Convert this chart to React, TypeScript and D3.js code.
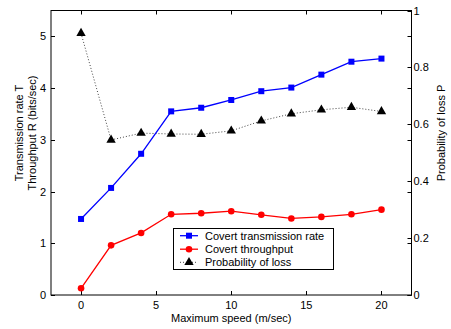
import { useEffect, useRef } from 'react'
import * as d3 from 'd3'

const speeds = [0, 2, 4, 6, 8, 10, 12, 14, 16, 18, 20]
const transmissionRate = [1.47, 2.07, 2.73, 3.55, 3.62, 3.77, 3.94, 4.01, 4.26, 4.51, 4.57]
const throughput = [0.13, 0.96, 1.2, 1.56, 1.58, 1.62, 1.55, 1.48, 1.51, 1.56, 1.65]
const lossProb = [0.92, 0.545, 0.569, 0.566, 0.565, 0.577, 0.612, 0.637, 0.651, 0.66, 0.645]

const xTicks = [0, 5, 10, 15, 20]
const leftTicks = [0, 1, 2, 3, 4, 5]
const rightTicks = [0, 0.2, 0.4, 0.6, 0.8, 1]
const rightTickLabels = ['0', '0.2', '0.4', '0.6', '0.8', '1']

const legendLabels = ['Covert transmission rate', 'Covert throughput', 'Probability of loss']

export default function App() {
  const svgRef = useRef<SVGSVGElement>(null)

  useEffect(() => {
    if (!svgRef.current) return
    const svg = d3.select(svgRef.current)
    svg.selectAll('*').remove()

    const width = 451
    const height = 329
    const margin = { top: 10.5, right: 39.5, bottom: 34, left: 51 }
    const font = '"Liberation Sans", Arial, Helvetica, sans-serif'
    const x0 = margin.left
    const x1 = width - margin.right
    const y0 = height - margin.bottom
    const y1 = margin.top

    svg.attr('width', width).attr('height', height)
    svg.append('rect').attr('width', width).attr('height', height).attr('fill', '#fff')

    const xScale = d3.scaleLinear().domain([-2, 22]).range([x0, x1])
    const yLeft = d3.scaleLinear().domain([0, 5.5]).range([y0, y1])
    const yRight = d3.scaleLinear().domain([0, 1]).range([y0, y1])

    const tickLen = 4
    const axes = svg.append('g').attr('stroke', '#000').attr('stroke-width', 1)

    // box
    axes.append('rect')
      .attr('x', x0).attr('y', y1)
      .attr('width', x1 - x0).attr('height', y0 - y1)
      .attr('fill', 'none')

    // x ticks bottom and top
    xTicks.forEach((t) => {
      const x = Math.round(xScale(t)) + 0.5
      axes.append('line').attr('x1', x).attr('x2', x).attr('y1', y0).attr('y2', y0 - tickLen)
      axes.append('line').attr('x1', x).attr('x2', x).attr('y1', y1).attr('y2', y1 + tickLen)
    })
    // left ticks, mirrored on right
    leftTicks.forEach((t) => {
      const y = Math.round(yLeft(t)) + 0.5
      axes.append('line').attr('x1', x0).attr('x2', x0 + tickLen).attr('y1', y).attr('y2', y)
      axes.append('line').attr('x1', x1).attr('x2', x1 - tickLen).attr('y1', y).attr('y2', y)
    })
    // right ticks
    rightTicks.forEach((t) => {
      const y = Math.round(yRight(t)) + 0.5
      axes.append('line').attr('x1', x1).attr('x2', x1 - tickLen).attr('y1', y).attr('y2', y)
    })

    const labels = svg.append('g')
      .attr('font-family', font)
      .attr('font-size', '11px')
      .attr('fill', '#000')

    xTicks.forEach((t) => {
      labels.append('text')
        .attr('x', xScale(t)).attr('y', y0 + 14)
        .attr('text-anchor', 'middle')
        .text(t)
    })
    leftTicks.forEach((t) => {
      labels.append('text')
        .attr('x', x0 - 5).attr('y', yLeft(t) + 4)
        .attr('text-anchor', 'end')
        .text(t)
    })
    rightTicks.forEach((t, i) => {
      labels.append('text')
        .attr('x', x1 + 2).attr('y', yRight(t) + 4)
        .attr('text-anchor', 'start')
        .text(rightTickLabels[i])
    })

    labels.append('text')
      .attr('x', (x0 + x1) / 2).attr('y', 322)
      .attr('text-anchor', 'middle')
      .text('Maximum speed (m/sec)')

    labels.append('text')
      .attr('transform', 'translate(23,133) rotate(-90)')
      .attr('text-anchor', 'middle')
      .text('Transmission rate T')
    labels.append('text')
      .attr('transform', 'translate(36,133) rotate(-90)')
      .attr('text-anchor', 'middle')
      .text('Throughput R (bits/sec)')
    labels.append('text')
      .attr('transform', 'translate(445,133) rotate(-90)')
      .attr('text-anchor', 'middle')
      .text('Probability of loss P')

    const clip = svg.append('g')

    // Probability of loss (dotted, right axis)
    const lineRight = d3.line<number>()
      .x((_, i) => xScale(speeds[i]))
      .y((d) => yRight(d))
    clip.append('path')
      .datum(lossProb)
      .attr('fill', 'none')
      .attr('stroke', '#444')
      .attr('stroke-width', 1)
      .attr('stroke-dasharray', '1,2')
      .attr('d', lineRight)

    const tri = d3.symbol().type(d3.symbolTriangle).size(38)
    clip.selectAll('.tri')
      .data(lossProb)
      .enter()
      .append('path')
      .attr('d', tri)
      .attr('transform', (d, i) => `translate(${xScale(speeds[i])},${yRight(d)})`)
      .attr('fill', '#000')

    const lineLeft = d3.line<number>()
      .x((_, i) => xScale(speeds[i]))
      .y((d) => yLeft(d))

    clip.append('path')
      .datum(transmissionRate)
      .attr('fill', 'none')
      .attr('stroke', '#0000ff')
      .attr('stroke-width', 1.3)
      .attr('d', lineLeft)
    clip.selectAll('.sq')
      .data(transmissionRate)
      .enter()
      .append('rect')
      .attr('x', (_, i) => xScale(speeds[i]) - 3)
      .attr('y', (d) => yLeft(d) - 3)
      .attr('width', 6)
      .attr('height', 6)
      .attr('fill', '#0000ff')

    clip.append('path')
      .datum(throughput)
      .attr('fill', 'none')
      .attr('stroke', '#ff0000')
      .attr('stroke-width', 1.3)
      .attr('d', lineLeft)
    clip.selectAll('.circ')
      .data(throughput)
      .enter()
      .append('circle')
      .attr('cx', (_, i) => xScale(speeds[i]))
      .attr('cy', (d) => yLeft(d))
      .attr('r', 3.3)
      .attr('fill', '#ff0000')

    // Legend
    const lg = svg.append('g')
    lg.append('rect')
      .attr('x', 173.5).attr('y', 228.5)
      .attr('width', 160).attr('height', 41)
      .attr('fill', '#fff')
      .attr('stroke', '#000')
      .attr('stroke-width', 1)
    const rowY = [235.7, 249.2, 262.3]
    const lx1 = 180
    const lx2 = 198
    const lm = (lx1 + lx2) / 2
    lg.append('line').attr('x1', lx1).attr('x2', lx2).attr('y1', rowY[0]).attr('y2', rowY[0])
      .attr('stroke', '#0000ff').attr('stroke-width', 1.3)
    lg.append('rect').attr('x', lm - 3).attr('y', rowY[0] - 3).attr('width', 6).attr('height', 6)
      .attr('fill', '#0000ff')
    lg.append('line').attr('x1', lx1).attr('x2', lx2).attr('y1', rowY[1]).attr('y2', rowY[1])
      .attr('stroke', '#ff0000').attr('stroke-width', 1.3)
    lg.append('circle').attr('cx', lm).attr('cy', rowY[1]).attr('r', 3.3).attr('fill', '#ff0000')
    lg.append('line').attr('x1', lx1).attr('x2', lx2).attr('y1', rowY[2]).attr('y2', rowY[2])
      .attr('stroke', '#444').attr('stroke-width', 1).attr('stroke-dasharray', '1,2')
    lg.append('path').attr('d', tri).attr('transform', `translate(${lm},${rowY[2]})`).attr('fill', '#000')

    legendLabels.forEach((t, i) => {
      lg.append('text')
        .attr('x', 205).attr('y', rowY[i] + 4)
        .attr('font-family', font)
        .attr('font-size', '11px')
        .attr('fill', '#000')
        .text(t)
    })
  }, [])

  return (
    <div style={{ position: 'absolute', left: 0, top: 0 }}>
      <svg ref={svgRef}></svg>
    </div>
  )
}
